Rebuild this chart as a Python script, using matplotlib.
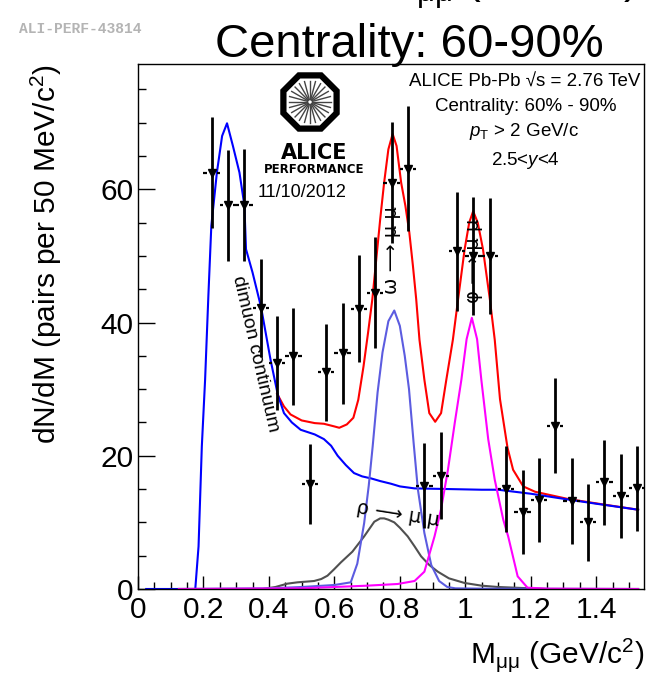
import numpy as np
import matplotlib.pyplot as plt
from matplotlib.patches import RegularPolygon

plt.rcParams['font.family'] = ['Liberation Sans', 'DejaVu Sans']
plt.rcParams['mathtext.fontset'] = 'custom'
plt.rcParams['mathtext.rm'] = 'Liberation Sans'
plt.rcParams['mathtext.it'] = 'Liberation Sans:italic'
plt.rcParams['mathtext.bf'] = 'Liberation Sans:bold'

# measured points (bin centres, 50 MeV bins)
mass = np.array([0.225, 0.275, 0.325, 0.375, 0.425, 0.475, 0.525, 0.575, 0.625,
                 0.675, 0.725, 0.775, 0.825, 0.875, 0.925, 0.975, 1.025, 1.075,
                 1.125, 1.175, 1.225, 1.275, 1.325, 1.375, 1.425, 1.475, 1.525])
dndm = np.array([62.5, 57.6, 57.6, 42.2, 33.9, 34.9, 15.8, 32.5, 35.4,
                 42.1, 44.5, 61.0, 63.1, 15.5, 17.0, 50.7, 50.0, 50.0,
                 15.0, 11.5, 13.3, 24.5, 13.2, 10.0, 16.0, 13.9, 15.1])
dndm_err = np.array([8.3, 8.3, 8.4, 7.4, 7.1, 7.3, 6.0, 7.3, 7.6,
                     8.0, 8.3, 9.1, 9.4, 6.4, 6.5, 8.9, 8.8, 8.7,
                     6.4, 6.3, 6.3, 7.1, 6.4, 5.8, 6.4, 6.3, 6.4])

# fit components
cont_m = [0.025, 0.175, 0.185, 0.195, 0.205, 0.215, 0.224, 0.241, 0.257, 0.272,
          0.29, 0.31, 0.325, 0.33, 0.35, 0.376, 0.405, 0.427, 0.446, 0.47, 0.497,
          0.54, 0.568, 0.59, 0.61, 0.635, 0.66, 0.685, 0.712, 0.74, 0.773, 0.80,
          0.845, 0.95, 1.05, 1.10, 1.20, 1.305, 1.40, 1.528]
cont_y = [0, 0, 6.4, 21.4, 31.4, 44.0, 54.5, 62.5, 68.0, 69.9,
          66.5, 62.5, 57.6, 51.0, 47.5, 42.3, 34.4, 29.2, 26.4, 25.0, 23.9,
          23.2, 22.5, 21.5, 20.0, 18.6, 17.4, 16.9, 16.6, 16.2, 15.8, 15.4,
          15.1, 15.0, 14.9, 14.9, 14.3, 13.5, 12.8, 11.9]

total_m = [0.425, 0.446, 0.466, 0.50, 0.54, 0.568, 0.60, 0.615, 0.638, 0.658,
           0.673, 0.689, 0.703, 0.716, 0.727, 0.74, 0.752, 0.765, 0.778, 0.79,
           0.804, 0.817, 0.829, 0.84, 0.85, 0.86, 0.875, 0.89, 0.908, 0.926,
           0.942, 0.962, 0.978, 0.998, 1.012, 1.024, 1.038, 1.054, 1.075, 1.09,
           1.106, 1.129, 1.146, 1.177, 1.213, 1.315, 1.407, 1.528]
total_y = [29.3, 27.4, 26.2, 25.3, 24.9, 24.8, 24.4, 24.2, 24.7, 25.7,
           28.4, 33.4, 38.5, 43.5, 49.0, 55.5, 61.0, 66.0, 68.3, 66.5,
           61.0, 57.5, 53.5, 48.5, 43.5, 37.4, 31.4, 26.4, 25.1, 26.4,
           31.4, 37.4, 43.5, 51.0, 55.0, 56.7, 55.0, 51.0, 43.5, 37.4,
           28.5, 21.2, 17.9, 15.4, 14.6, 13.5, 12.8, 11.9]

rho_m = [0.125, 0.38, 0.42, 0.456, 0.487, 0.538, 0.56, 0.579, 0.60, 0.62, 0.655,
         0.691, 0.722, 0.74, 0.752, 0.765, 0.783, 0.80, 0.824, 0.845, 0.865,
         0.89, 0.916, 0.95, 0.998, 1.05, 1.10, 1.20, 1.254, 1.528]
rho_y = [0, 0, 0.3, 0.8, 1.0, 1.2, 1.5, 2.0, 3.0, 4.0, 5.6,
         7.9, 10.1, 10.6, 10.6, 10.4, 10.0, 9.2, 7.9, 6.4, 4.9,
         3.6, 2.6, 1.6, 0.9, 0.5, 0.3, 0.1, 0, 0]

omega_m = [0.125, 0.40, 0.50, 0.60, 0.65, 0.67, 0.691, 0.705, 0.717, 0.732, 0.747,
           0.765, 0.783, 0.80, 0.815, 0.828, 0.842, 0.855, 0.875, 0.896, 0.92,
           0.945, 0.97, 1.05, 1.528]
omega_y = [0, 0.1, 0.3, 0.6, 1.0, 3.8, 9.9, 15.5, 21.4, 29.5, 35.5,
           40.2, 41.8, 39.5, 35.0, 30.0, 22.0, 15.0, 8.4, 3.6, 1.2,
           0.3, 0.1, 0.05, 0]

phi_m = [0.125, 0.50, 0.60, 0.70, 0.793, 0.845, 0.875, 0.906, 0.926, 0.947, 0.968,
         0.988, 1.004, 1.02, 1.036, 1.049, 1.07, 1.09, 1.116, 1.131, 1.16,
         1.19, 1.25, 1.528]
phi_y = [0, 0.1, 0.3, 0.5, 0.75, 1.2, 2.6, 7.9, 12.0, 17.9, 25.0,
         31.4, 37.5, 40.7, 37.5, 31.4, 22.5, 16.4, 10.4, 7.9, 1.9,
         0.2, 0.05, 0]

x_ticks = [0, 0.2, 0.4, 0.6, 0.8, 1.0, 1.2, 1.4]
x_ticklabels = ['0', '0.2', '0.4', '0.6', '0.8', '1', '1.2', '1.4']
y_ticks = [0, 20, 40, 60]

W, H = 650, 688


def fx(px):
    return px / W


def fy(py):
    return 1 - py / H


fig = plt.figure(figsize=(6.5, 6.88), dpi=100)
ax = fig.add_axes([fx(138), fy(589), (644 - 138) / W, (589 - 64) / H])

ax.plot(total_m, total_y, color='#ff0000', lw=1.5)
ax.plot(cont_m, cont_y, color='#0000ff', lw=1.5)
ax.plot(rho_m, rho_y, color='#505050', lw=1.5)
ax.plot(omega_m, omega_y, color='#5c5ce0', lw=1.5)
ax.plot(phi_m, phi_y, color='#ff00ff', lw=1.5)

ax.errorbar(mass, dndm, yerr=dndm_err, fmt='v', color='black', ms=6,
            elinewidth=2, capsize=0, zorder=5)
ax.hlines(dndm, mass - 0.025, mass - 0.015, colors='black', lw=1.6, zorder=5)
ax.hlines(dndm, mass + 0.015, mass + 0.025, colors='black', lw=1.6, zorder=5)

ax.text(0.359, 35.3, 'dimuon continuum', rotation=-77, fontsize=14,
        ha='center', va='center', rotation_mode='anchor')
lab_font = ['DejaVu Sans']
ax.text(0.795, 11.3, 'ρ \u27f6 μ μ', rotation=-9, fontsize=14, family=lab_font,
        ha='center', va='center', rotation_mode='anchor')
ax.text(0.775, 50.8, 'ω \u27f6 μ μ', rotation=90, fontsize=14, family=lab_font,
        ha='center', va='center', rotation_mode='anchor')
ax.text(1.025, 49.3, 'φ \u27f6 μ μ', rotation=90, fontsize=14, family=lab_font,
        ha='center', va='center', rotation_mode='anchor')

ax.set_xlim(0, 1.546)
ax.set_ylim(0, 78.8)
ax.set_xticks(x_ticks)
ax.set_xticklabels(x_ticklabels)
ax.set_xticks(np.arange(0, 1.55, 0.05), minor=True)
ax.set_yticks(y_ticks)
ax.set_yticks(np.arange(0, 79, 5), minor=True)
ax.tick_params(which='both', direction='in', top=False, right=False,
               labelsize=21.5, width=1)
ax.tick_params(axis='x', which='major', length=9.4, pad=5)
ax.tick_params(axis='x', which='minor', length=5)
ax.tick_params(axis='y', which='major', length=12, pad=3.5)
ax.tick_params(axis='y', which='minor', length=5.8)
for s in ax.spines.values():
    s.set_linewidth(1)

ax.set_ylabel('dN/dM (pairs per 50 MeV/c$^{2}$)', fontsize=21.5, loc='top')
ax.yaxis.set_label_coords(-0.146, 1.0)
ax.set_xlabel('M$_{\\mathrm{μμ}}$ (GeV/c$^{2}$)', fontsize=21.5, loc='right')
ax.xaxis.label.set_va('baseline')
ax.xaxis.set_label_coords(1.0, -(663 - 589) / (589 - 64))

# header texts
fig.text(fx(409), fy(57), 'Centrality: 60-90%', fontsize=34, ha='center', va='baseline')
fig.text(fx(19), fy(33), 'ALI-PERF-43814', family='Liberation Mono', weight='bold',
         color='#b4b4b4', fontsize=10.5, va='baseline')
fig.text(0.98, 1 + 5 / H, 'M$_{\\mathrm{μμ}}$ (GeV/c$^{2}$)', fontsize=32,
         ha='right', va='baseline')

fig.text(fx(525), fy(86.5), 'ALICE Pb-Pb √s = 2.76 TeV', fontsize=13.5,
         ha='center', va='baseline')
fig.text(fx(526), fy(111), 'Centrality: 60% - 90%', fontsize=13.5,
         ha='center', va='baseline')
fig.text(fx(524), fy(136), '$p_{\\mathrm{T}}$ > 2 GeV/c', fontsize=13.5,
         ha='center', va='baseline')
fig.text(fx(525), fy(165), '2.5<$y$<4', fontsize=13.5, ha='center', va='baseline')

# ALICE performance logo
lax = fig.add_axes([fx(278), fy(134), 64 / W, 64 / H])
lax.set_xlim(-1, 1)
lax.set_ylim(-1, 1)
lax.axis('off')
lax.add_patch(RegularPolygon((0, 0), 8, radius=0.9, orientation=np.pi / 8,
                             fc='white', ec='black', lw=4.5))
for a in np.linspace(0, 2 * np.pi, 24, endpoint=False):
    lax.plot([0.08 * np.cos(a), 0.66 * np.cos(a)], [0.08 * np.sin(a), 0.66 * np.sin(a)],
             color='#444444', lw=1)

fig.text(fx(314), fy(159), 'ALICE', fontsize=15, weight='bold',
         family='DejaVu Sans', ha='center', va='baseline')
fig.text(fx(314), fy(173), 'PERFORMANCE', fontsize=8.5, weight='bold',
         family='DejaVu Sans', ha='center', va='baseline')
fig.text(fx(302), fy(197), '11/10/2012', fontsize=13, ha='center', va='baseline')

fig.savefig('out.png', dpi=100)
